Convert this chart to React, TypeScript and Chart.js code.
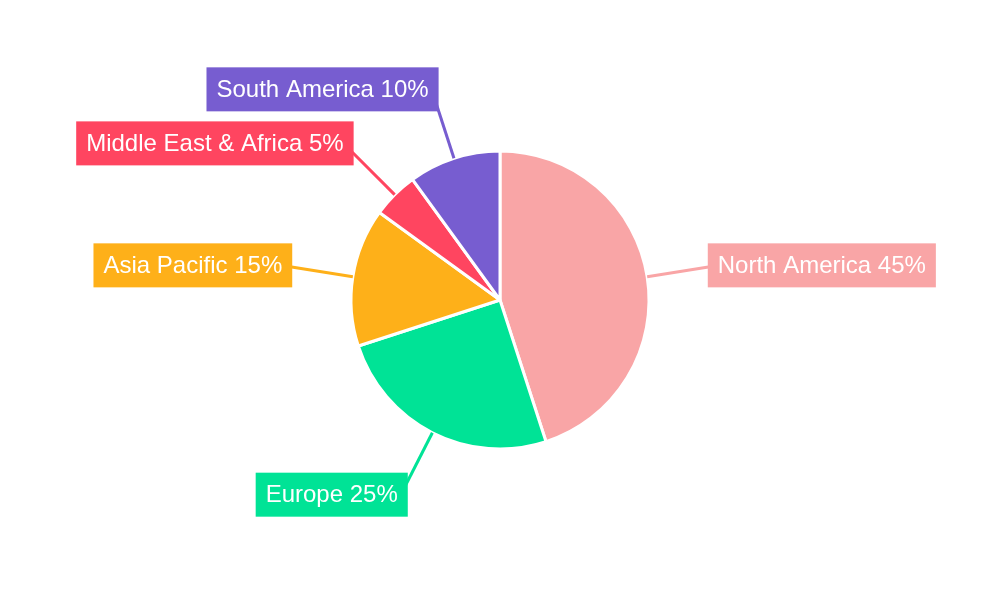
import React, { useEffect, useRef } from "react";
import { Chart, registerables } from "chart.js";

Chart.register(...registerables);

const categories = ["North America", "Europe", "Asia Pacific", "Middle East & Africa", "South America"];
const shares = [45, 25, 15, 5, 10];
const colors = ["#F9A5A6", "#00E396", "#FEB019", "#FF4560", "#775DD0"];

const FONT = "24px 'Liberation Sans', Arial, sans-serif";

const calloutPlugin = {
  id: "callouts",
  afterDatasetsDraw(chart: any) {
    const ctx = chart.ctx;
    const meta = chart.getDatasetMeta(0);
    const total = shares.reduce((a, b) => a + b, 0);
    meta.data.forEach((arc: any, i: number) => {
      const { x, y, startAngle, endAngle, outerRadius } = arc.getProps(
        ["x", "y", "startAngle", "endAngle", "outerRadius"],
        true
      );
      const mid = (startAngle + endAngle) / 2;
      const cos = Math.cos(mid);
      const sin = Math.sin(mid);
      const sx = x + cos * outerRadius;
      const sy = y + sin * outerRadius;
      const ex = x + cos * (outerRadius + 62);
      const ey = y + sin * (outerRadius + 62);
      const text = `${categories[i]} ${Math.round((shares[i] / total) * 100)}%`;
      ctx.save();
      ctx.strokeStyle = colors[i];
      ctx.lineWidth = 3;
      ctx.beginPath();
      ctx.moveTo(sx, sy);
      ctx.lineTo(ex, ey);
      ctx.stroke();
      ctx.font = FONT;
      const tw = ctx.measureText(text).width;
      const w = tw + 20;
      const h = 44;
      const dir = cos >= 0 ? 1 : -1;
      const cx = ex + dir * (w / 2 - 4 * Math.abs(sin));
      const cy = ey + (sin < 0 ? sin * 10.5 : sin * 7.5);
      ctx.fillStyle = colors[i];
      ctx.fillRect(cx - w / 2, cy - h / 2, w, h);
      ctx.fillStyle = "#ffffff";
      ctx.textAlign = "center";
      ctx.textBaseline = "middle";
      ctx.fillText(text, cx, cy + 1);
      ctx.restore();
    });
  },
};

export default function App() {
  const ref = useRef<HTMLCanvasElement | null>(null);
  useEffect(() => {
    document.body.style.margin = "0";
    if (!ref.current) return;
    const chart = new Chart(ref.current, {
      type: "pie",
      data: {
        labels: categories,
        datasets: [
          {
            data: shares,
            backgroundColor: colors,
            borderColor: "#ffffff",
            borderWidth: 3,
          },
        ],
      },
      options: {
        animation: false,
        responsive: false,
        radius: 149,
        plugins: {
          legend: { display: false },
          tooltip: { enabled: false },
        },
      },
      plugins: [calloutPlugin],
    });
    return () => chart.destroy();
  }, []);
  return (
    <div style={{ position: "absolute", left: 0, top: 0, width: 1000, height: 600, background: "#fff" }}>
      <canvas ref={ref} width={1000} height={600} />
    </div>
  );
}
